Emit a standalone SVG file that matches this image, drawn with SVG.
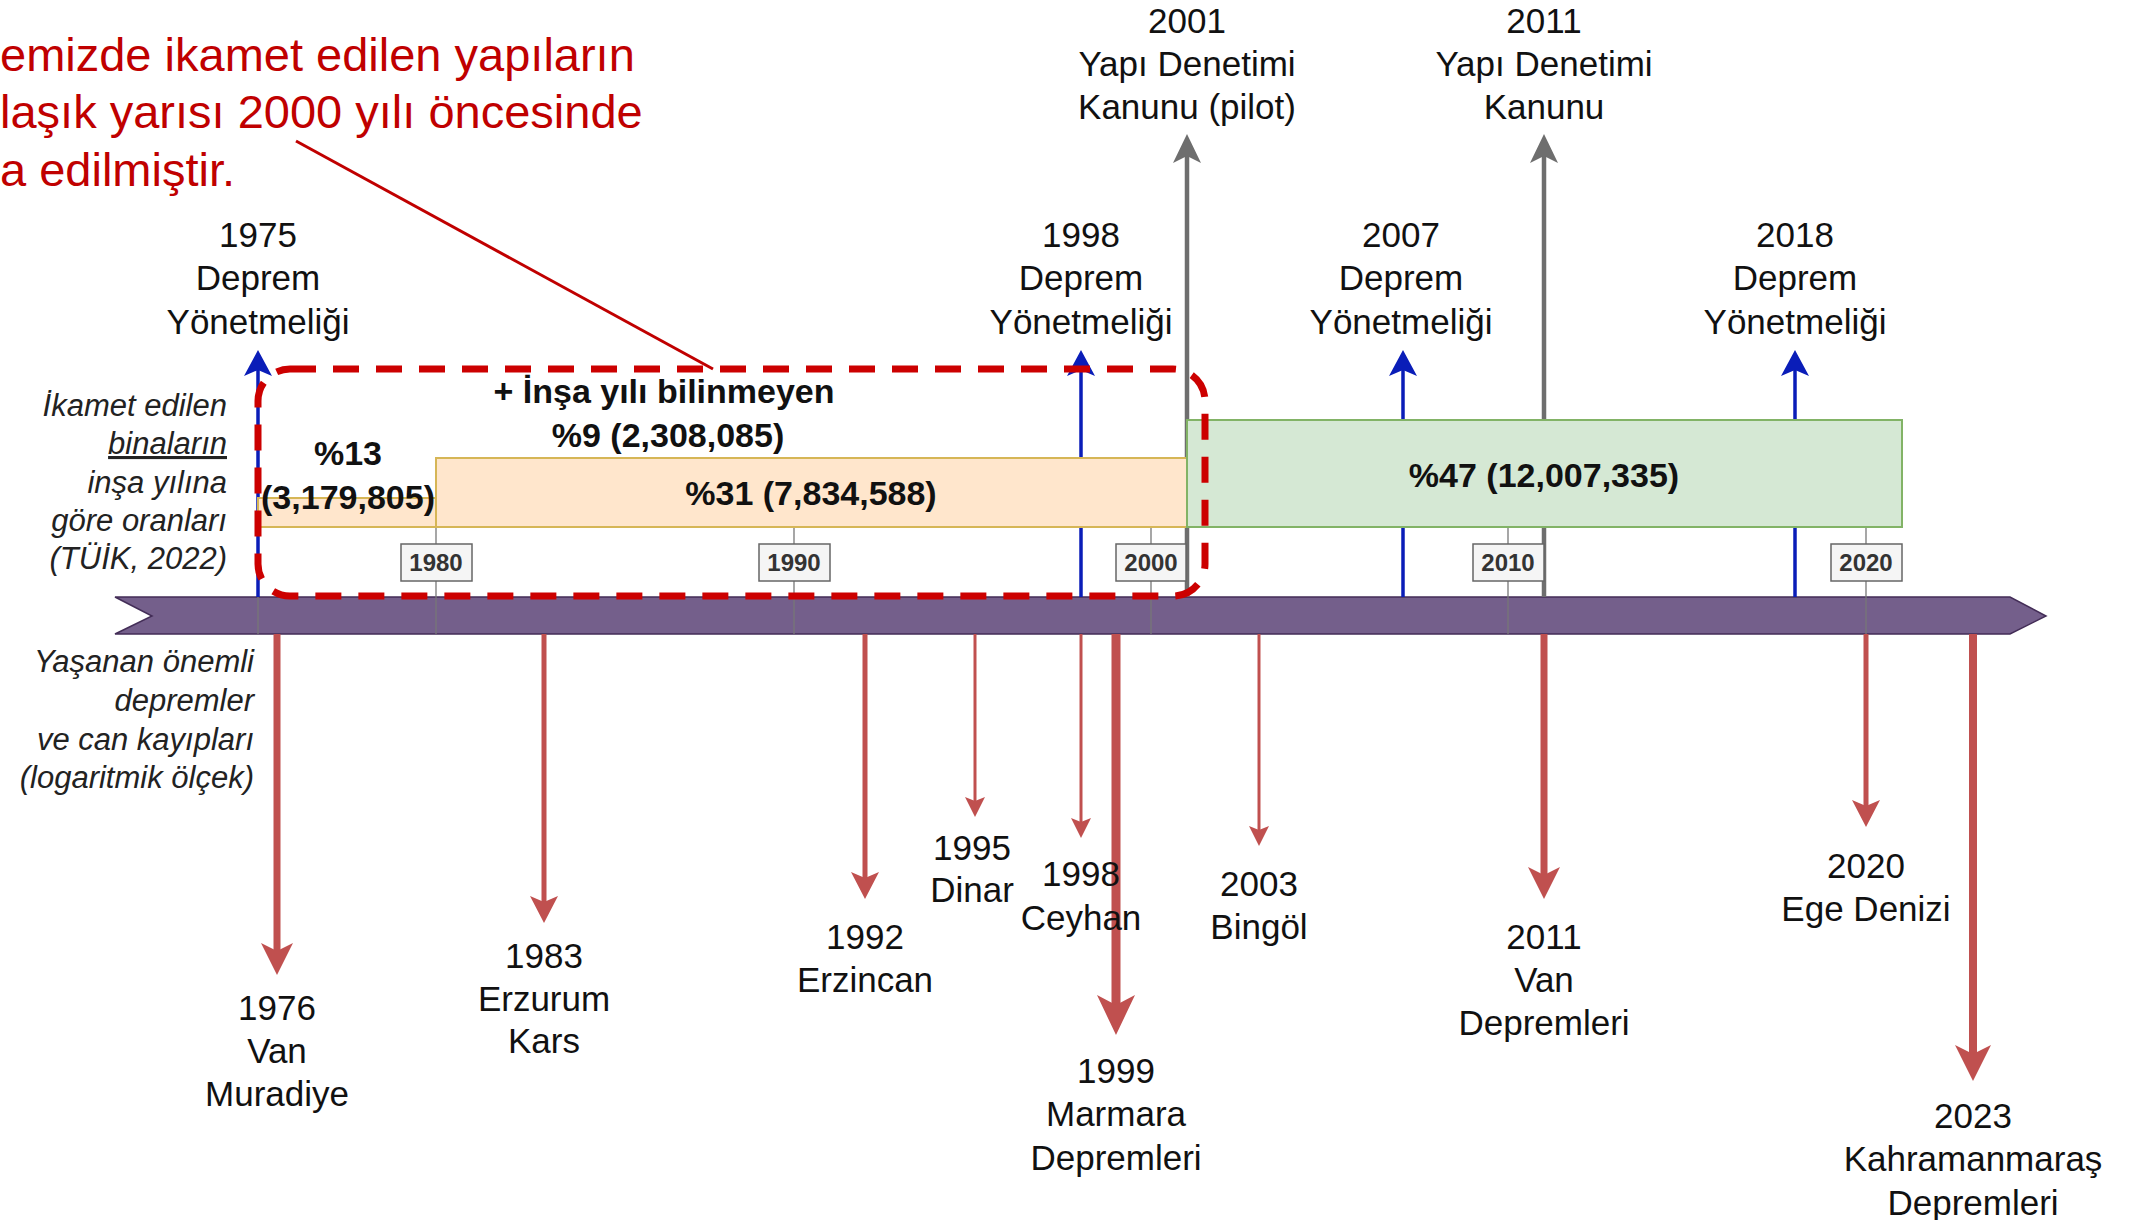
<svg xmlns="http://www.w3.org/2000/svg" width="2129" height="1220" viewBox="0 0 2129 1220">
<style>
text{font-family:"Liberation Sans",Arial,sans-serif;fill:#111}
.lbl{font-size:35px;text-anchor:middle}
.it{font-size:31px;font-style:italic;text-anchor:end;fill:#222}
.b{font-size:34px;font-weight:bold;text-anchor:middle}
.yr{font-size:24px;font-weight:bold;text-anchor:middle;fill:#333}
.ybox{fill:#f5f5f5;stroke:#666;stroke-width:1.5}
.tick{stroke:#777;stroke-width:1.3;fill:none}
.eq{stroke:#c0504f;fill:none}
.eqh{fill:#c0504f}
.reg{stroke:#0a1db8;stroke-width:3.5;fill:none}
.regh{fill:#0a1db8}
.law{stroke:#6e6e6e;stroke-width:4.5;fill:none}
.lawh{fill:#6e6e6e}
.red{fill:#c00000;font-size:47px;text-anchor:start}
</style>
<rect width="2129" height="1220" fill="#fff"/>

<g id="timeline">
<polygon points="115,597 2010,597 2046,616 2010,634 115,634 152,616" fill="#745f8b" stroke="#432d57" stroke-width="1.5"/>
</g>

<g id="ticks">
<line class="tick" x1="258" y1="597" x2="258" y2="634" stroke="#4a3a60"/>
<line class="tick" x1="436" y1="527" x2="436" y2="634"/>
<line class="tick" x1="794" y1="527" x2="794" y2="634"/>
<line class="tick" x1="1151" y1="527" x2="1151" y2="634"/>
<line class="tick" x1="1508" y1="527" x2="1508" y2="634"/>
<line class="tick" x1="1866" y1="527" x2="1866" y2="634"/>
</g>

<g id="connectors">
<!-- regulations (blue) -->
<line class="reg" x1="258" y1="597" x2="258" y2="370"/>
<polygon class="regh" points="258,350 244,376 258,370 272,376"/>
<line class="reg" x1="1081" y1="597" x2="1081" y2="370"/>
<polygon class="regh" points="1081,350 1067,376 1081,370 1095,376"/>
<line class="reg" x1="1403" y1="597" x2="1403" y2="370"/>
<polygon class="regh" points="1403,350 1389,376 1403,370 1417,376"/>
<line class="reg" x1="1795" y1="597" x2="1795" y2="370"/>
<polygon class="regh" points="1795,350 1781,376 1795,370 1809,376"/>
<!-- laws (gray) -->
<line class="law" x1="1187" y1="597" x2="1187" y2="156"/>
<polygon class="lawh" points="1187,134 1173,163 1187,156 1201,163"/>
<line class="law" x1="1544" y1="597" x2="1544" y2="156"/>
<polygon class="lawh" points="1544,134 1530,163 1544,156 1558,163"/>
<!-- earthquakes (red) -->
<line class="eq" stroke-width="7" x1="277" y1="634" x2="277" y2="952"/>
<polygon class="eqh" points="277,975 261,943 277,951 293,943"/>
<line class="eq" stroke-width="5" x1="544" y1="634" x2="544" y2="903"/>
<polygon class="eqh" points="544,923 530,896 544,902 558,896"/>
<line class="eq" stroke-width="5" x1="865" y1="634" x2="865" y2="879"/>
<polygon class="eqh" points="865,899 851,872 865,878 879,872"/>
<line class="eq" stroke-width="3" x1="975" y1="634" x2="975" y2="802"/>
<polygon class="eqh" points="975,817 965,797 975,801 985,797"/>
<line class="eq" stroke-width="3" x1="1081" y1="634" x2="1081" y2="823"/>
<polygon class="eqh" points="1081,838 1071,818 1081,822 1091,818"/>
<line class="eq" stroke-width="9" x1="1116" y1="634" x2="1116" y2="1006"/>
<polygon class="eqh" points="1116,1035 1097,995 1116,1005 1135,995"/>
<line class="eq" stroke-width="3" x1="1259" y1="634" x2="1259" y2="831"/>
<polygon class="eqh" points="1259,846 1249,826 1259,830 1269,826"/>
<line class="eq" stroke-width="7" x1="1544" y1="634" x2="1544" y2="876"/>
<polygon class="eqh" points="1544,899 1528,867 1544,875 1560,867"/>
<line class="eq" stroke-width="5" x1="1866" y1="634" x2="1866" y2="807"/>
<polygon class="eqh" points="1866,827 1852,800 1866,806 1880,800"/>
<line class="eq" stroke-width="8" x1="1973" y1="634" x2="1973" y2="1055"/>
<polygon class="eqh" points="1973,1081 1955,1045 1973,1054 1991,1045"/>
<!-- callout line -->
<line x1="296" y1="141" x2="713" y2="369" stroke="#c00000" stroke-width="3"/>
</g>

<g id="box-pre1980">
<rect x="258" y="498" width="178" height="29" fill="#ffe6cc" stroke="#d6b656" stroke-width="2"/>
<text class="b" x="348" y="465">%13</text>
<text class="b" x="348" y="509">(3,179,805)</text>
</g>
<g id="box-1980-2000">
<rect x="436" y="458" width="751" height="69" fill="#ffe6cc" stroke="#d6b656" stroke-width="2"/>
<text class="b" x="811" y="505">%31 (7,834,588)</text>
</g>
<g id="box-post2000">
<rect x="1187" y="420" width="715" height="107" fill="#d5e8d4" stroke="#82b366" stroke-width="2"/>
<text class="b" x="1544" y="487">%47 (12,007,335)</text>
</g>

<g id="years">
<rect class="ybox" x="401" y="544" width="71" height="37"/><text class="yr" x="436" y="571">1980</text>
<rect class="ybox" x="759" y="544" width="71" height="37"/><text class="yr" x="794" y="571">1990</text>
<rect class="ybox" x="1116" y="544" width="70" height="37"/><text class="yr" x="1151" y="571">2000</text>
<rect class="ybox" x="1473" y="544" width="71" height="37"/><text class="yr" x="1508" y="571">2010</text>
<rect class="ybox" x="1831" y="544" width="71" height="37"/><text class="yr" x="1866" y="571">2020</text>
</g>

<g id="unknown-year">
<rect x="258" y="369" width="947" height="227" rx="32" fill="none" stroke="#cc0000" stroke-width="7" stroke-dasharray="26 17"/>
<text class="b" x="664" y="403">+ İnşa yılı bilinmeyen</text>
<text class="b" x="668" y="447">%9 (2,308,085)</text>
</g>

<g id="callout">
<text class="red" x="0" y="71">emizde ikamet edilen yapıların</text>
<text class="red" x="0" y="128">laşık yarısı 2000 yılı öncesinde</text>
<text class="red" x="0" y="186">a edilmiştir.</text>
</g>

<g id="law-2001"><text class="lbl" x="1187" y="33">2001</text><text class="lbl" x="1187" y="76">Yapı Denetimi</text><text class="lbl" x="1187" y="119">Kanunu (pilot)</text></g>
<g id="law-2011"><text class="lbl" x="1544" y="33">2011</text><text class="lbl" x="1544" y="76">Yapı Denetimi</text><text class="lbl" x="1544" y="119">Kanunu</text></g>
<g id="reg-1975"><text class="lbl" x="258" y="247">1975</text><text class="lbl" x="258" y="290">Deprem</text><text class="lbl" x="258" y="334">Yönetmeliği</text></g>
<g id="reg-1998"><text class="lbl" x="1081" y="247">1998</text><text class="lbl" x="1081" y="290">Deprem</text><text class="lbl" x="1081" y="334">Yönetmeliği</text></g>
<g id="reg-2007"><text class="lbl" x="1401" y="247">2007</text><text class="lbl" x="1401" y="290">Deprem</text><text class="lbl" x="1401" y="334">Yönetmeliği</text></g>
<g id="reg-2018"><text class="lbl" x="1795" y="247">2018</text><text class="lbl" x="1795" y="290">Deprem</text><text class="lbl" x="1795" y="334">Yönetmeliği</text></g>

<g id="legend-top">
<text class="it" x="227" y="416">İkamet edilen</text>
<text class="it" x="227" y="454" text-decoration="underline">binaların</text>
<text class="it" x="227" y="493">inşa yılına</text>
<text class="it" x="227" y="531">göre oranları</text>
<text class="it" x="227" y="569">(TÜİK, 2022)</text>
</g>
<g id="legend-bottom">
<text class="it" x="254" y="672">Yaşanan önemli</text>
<text class="it" x="254" y="711">depremler</text>
<text class="it" x="254" y="750">ve can kayıpları</text>
<text class="it" x="254" y="788">(logaritmik ölçek)</text>
</g>

<g id="eq-1976"><text class="lbl" x="277" y="1020">1976</text><text class="lbl" x="277" y="1063">Van</text><text class="lbl" x="277" y="1106">Muradiye</text></g>
<g id="eq-1983"><text class="lbl" x="544" y="968">1983</text><text class="lbl" x="544" y="1011">Erzurum</text><text class="lbl" x="544" y="1053">Kars</text></g>
<g id="eq-1992"><text class="lbl" x="865" y="949">1992</text><text class="lbl" x="865" y="992">Erzincan</text></g>
<g id="eq-1995"><text class="lbl" x="972" y="860">1995</text><text class="lbl" x="972" y="902">Dinar</text></g>
<g id="eq-1998"><text class="lbl" x="1081" y="886">1998</text><text class="lbl" x="1081" y="930">Ceyhan</text></g>
<g id="eq-1999"><text class="lbl" x="1116" y="1083">1999</text><text class="lbl" x="1116" y="1126">Marmara</text><text class="lbl" x="1116" y="1170">Depremleri</text></g>
<g id="eq-2003"><text class="lbl" x="1259" y="896">2003</text><text class="lbl" x="1259" y="939">Bingöl</text></g>
<g id="eq-2011"><text class="lbl" x="1544" y="949">2011</text><text class="lbl" x="1544" y="992">Van</text><text class="lbl" x="1544" y="1035">Depremleri</text></g>
<g id="eq-2020"><text class="lbl" x="1866" y="878">2020</text><text class="lbl" x="1866" y="921">Ege Denizi</text></g>
<g id="eq-2023"><text class="lbl" x="1973" y="1128">2023</text><text class="lbl" x="1973" y="1171">Kahramanmaraş</text><text class="lbl" x="1973" y="1215">Depremleri</text></g>
</svg>
